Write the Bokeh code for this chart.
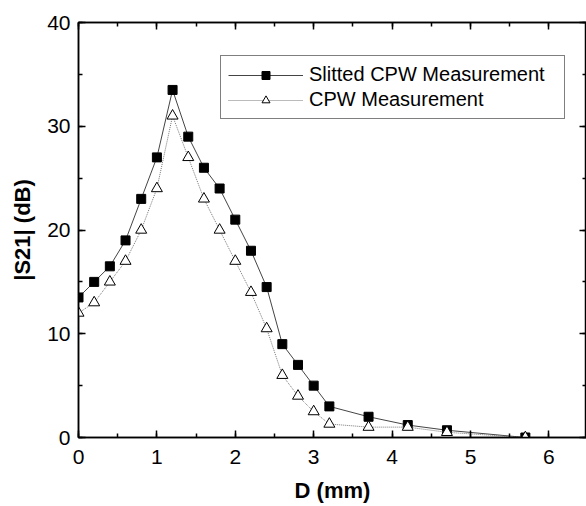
from bokeh.plotting import figure
from bokeh.models import LinearAxis, Legend, LegendItem, SingleIntervalTicker, Range1d
from bokeh.embed import file_html
from bokeh.resources import INLINE

# Data
d_mm = [0.0, 0.2, 0.4, 0.6, 0.8, 1.0, 1.2, 1.4, 1.6, 1.8, 2.0, 2.2, 2.4, 2.6, 2.8, 3.0, 3.2, 3.7, 4.2, 4.7, 5.7]
s21_slitted = [13.5, 15.0, 16.5, 19.0, 23.0, 27.0, 33.5, 29.0, 26.0, 24.0, 21.0, 18.0, 14.5, 9.0, 7.0, 5.0, 3.0, 2.0, 1.2, 0.7, 0.0]
s21_cpw = [12.0, 13.0, 15.0, 17.0, 20.0, 24.0, 31.0, 27.0, 23.0, 20.0, 17.0, 14.0, 10.5, 6.0, 4.0, 2.5, 1.3, 1.0, 1.0, 0.5, 0.0]
series_names = ["Slitted CPW Measurement", "CPW Measurement"]
x_label = "D (mm)"
y_label = "|S21| (dB)"

FONT = "Liberation Sans"

p = figure(width=586, height=506, output_backend="svg", toolbar_location=None,
           x_range=Range1d(0, 6.48), y_range=Range1d(0, 40),
           min_border_left=78, min_border_right=0, min_border_top=22, min_border_bottom=69)
p.background_fill_color = "white"
p.border_fill_color = "white"
p.outline_line_color = "black"
p.outline_line_width = 1.5
p.xgrid.visible = False
p.ygrid.visible = False

def style(ax, labels=True):
    ax.axis_line_color = "black"
    ax.axis_line_width = 1.5
    ax.major_tick_in = 7
    ax.major_tick_out = 0
    ax.minor_tick_in = 4
    ax.minor_tick_out = 0
    ax.major_tick_line_color = "black"
    ax.minor_tick_line_color = "black"
    ax.major_tick_line_width = 1.5
    ax.minor_tick_line_width = 1.5
    if labels:
        ax.major_label_text_font = FONT
        ax.major_label_text_font_size = "21px"
        ax.major_label_text_color = "black"
        ax.axis_label_text_font = FONT
        ax.axis_label_text_font_size = "22px"
        ax.axis_label_text_font_style = "bold"
        ax.axis_label_text_color = "black"
    else:
        ax.major_label_text_font_size = "1px"
        ax.major_label_text_color = None
        ax.major_label_standoff = 0
        ax.axis_label = None

xa = p.xaxis[0]
xa.ticker = SingleIntervalTicker(interval=1, num_minor_ticks=2)
style(xa)
xa.axis_label = x_label
xa.major_label_standoff = 12
xa.axis_label_standoff = 11

ya = p.yaxis[0]
ya.ticker = SingleIntervalTicker(interval=10, num_minor_ticks=2)
style(ya)
ya.axis_label = y_label
ya.major_label_standoff = 8
ya.axis_label_standoff = 9

top = LinearAxis(ticker=SingleIntervalTicker(interval=1, num_minor_ticks=2))
style(top, labels=False)
p.add_layout(top, "above")
right = LinearAxis(ticker=SingleIntervalTicker(interval=10, num_minor_ticks=2))
style(right, labels=False)
p.add_layout(right, "right")

l1 = p.line(d_mm, s21_slitted, line_color="#444444", line_width=1)
m1 = p.scatter(d_mm, s21_slitted, marker="square", size=9, fill_color="black", line_color="black")
l2 = p.line(d_mm, s21_cpw, line_color="#777777", line_width=1, line_dash="1 1")
m2 = p.scatter(d_mm, s21_cpw, marker="triangle", size=11, fill_color="white", line_color="black", line_width=1)

legend = Legend(items=[LegendItem(label=series_names[0], renderers=[l1, m1]),
                       LegendItem(label=series_names[1], renderers=[l2, m2])],
                location=(142, 318))
legend.label_text_font = FONT
legend.label_text_font_size = "20px"
legend.label_text_color = "black"
legend.border_line_color = "black"
legend.border_line_width = 1
legend.background_fill_color = "white"
legend.background_fill_alpha = 1
legend.padding = 7
legend.spacing = 2
legend.margin = 0
legend.glyph_width = 75
legend.glyph_height = 20
legend.label_standoff = 6
legend.label_width = 248
legend.label_height = 20
p.add_layout(legend, "center")

open("out.html", "w").write(file_html(p, INLINE))
